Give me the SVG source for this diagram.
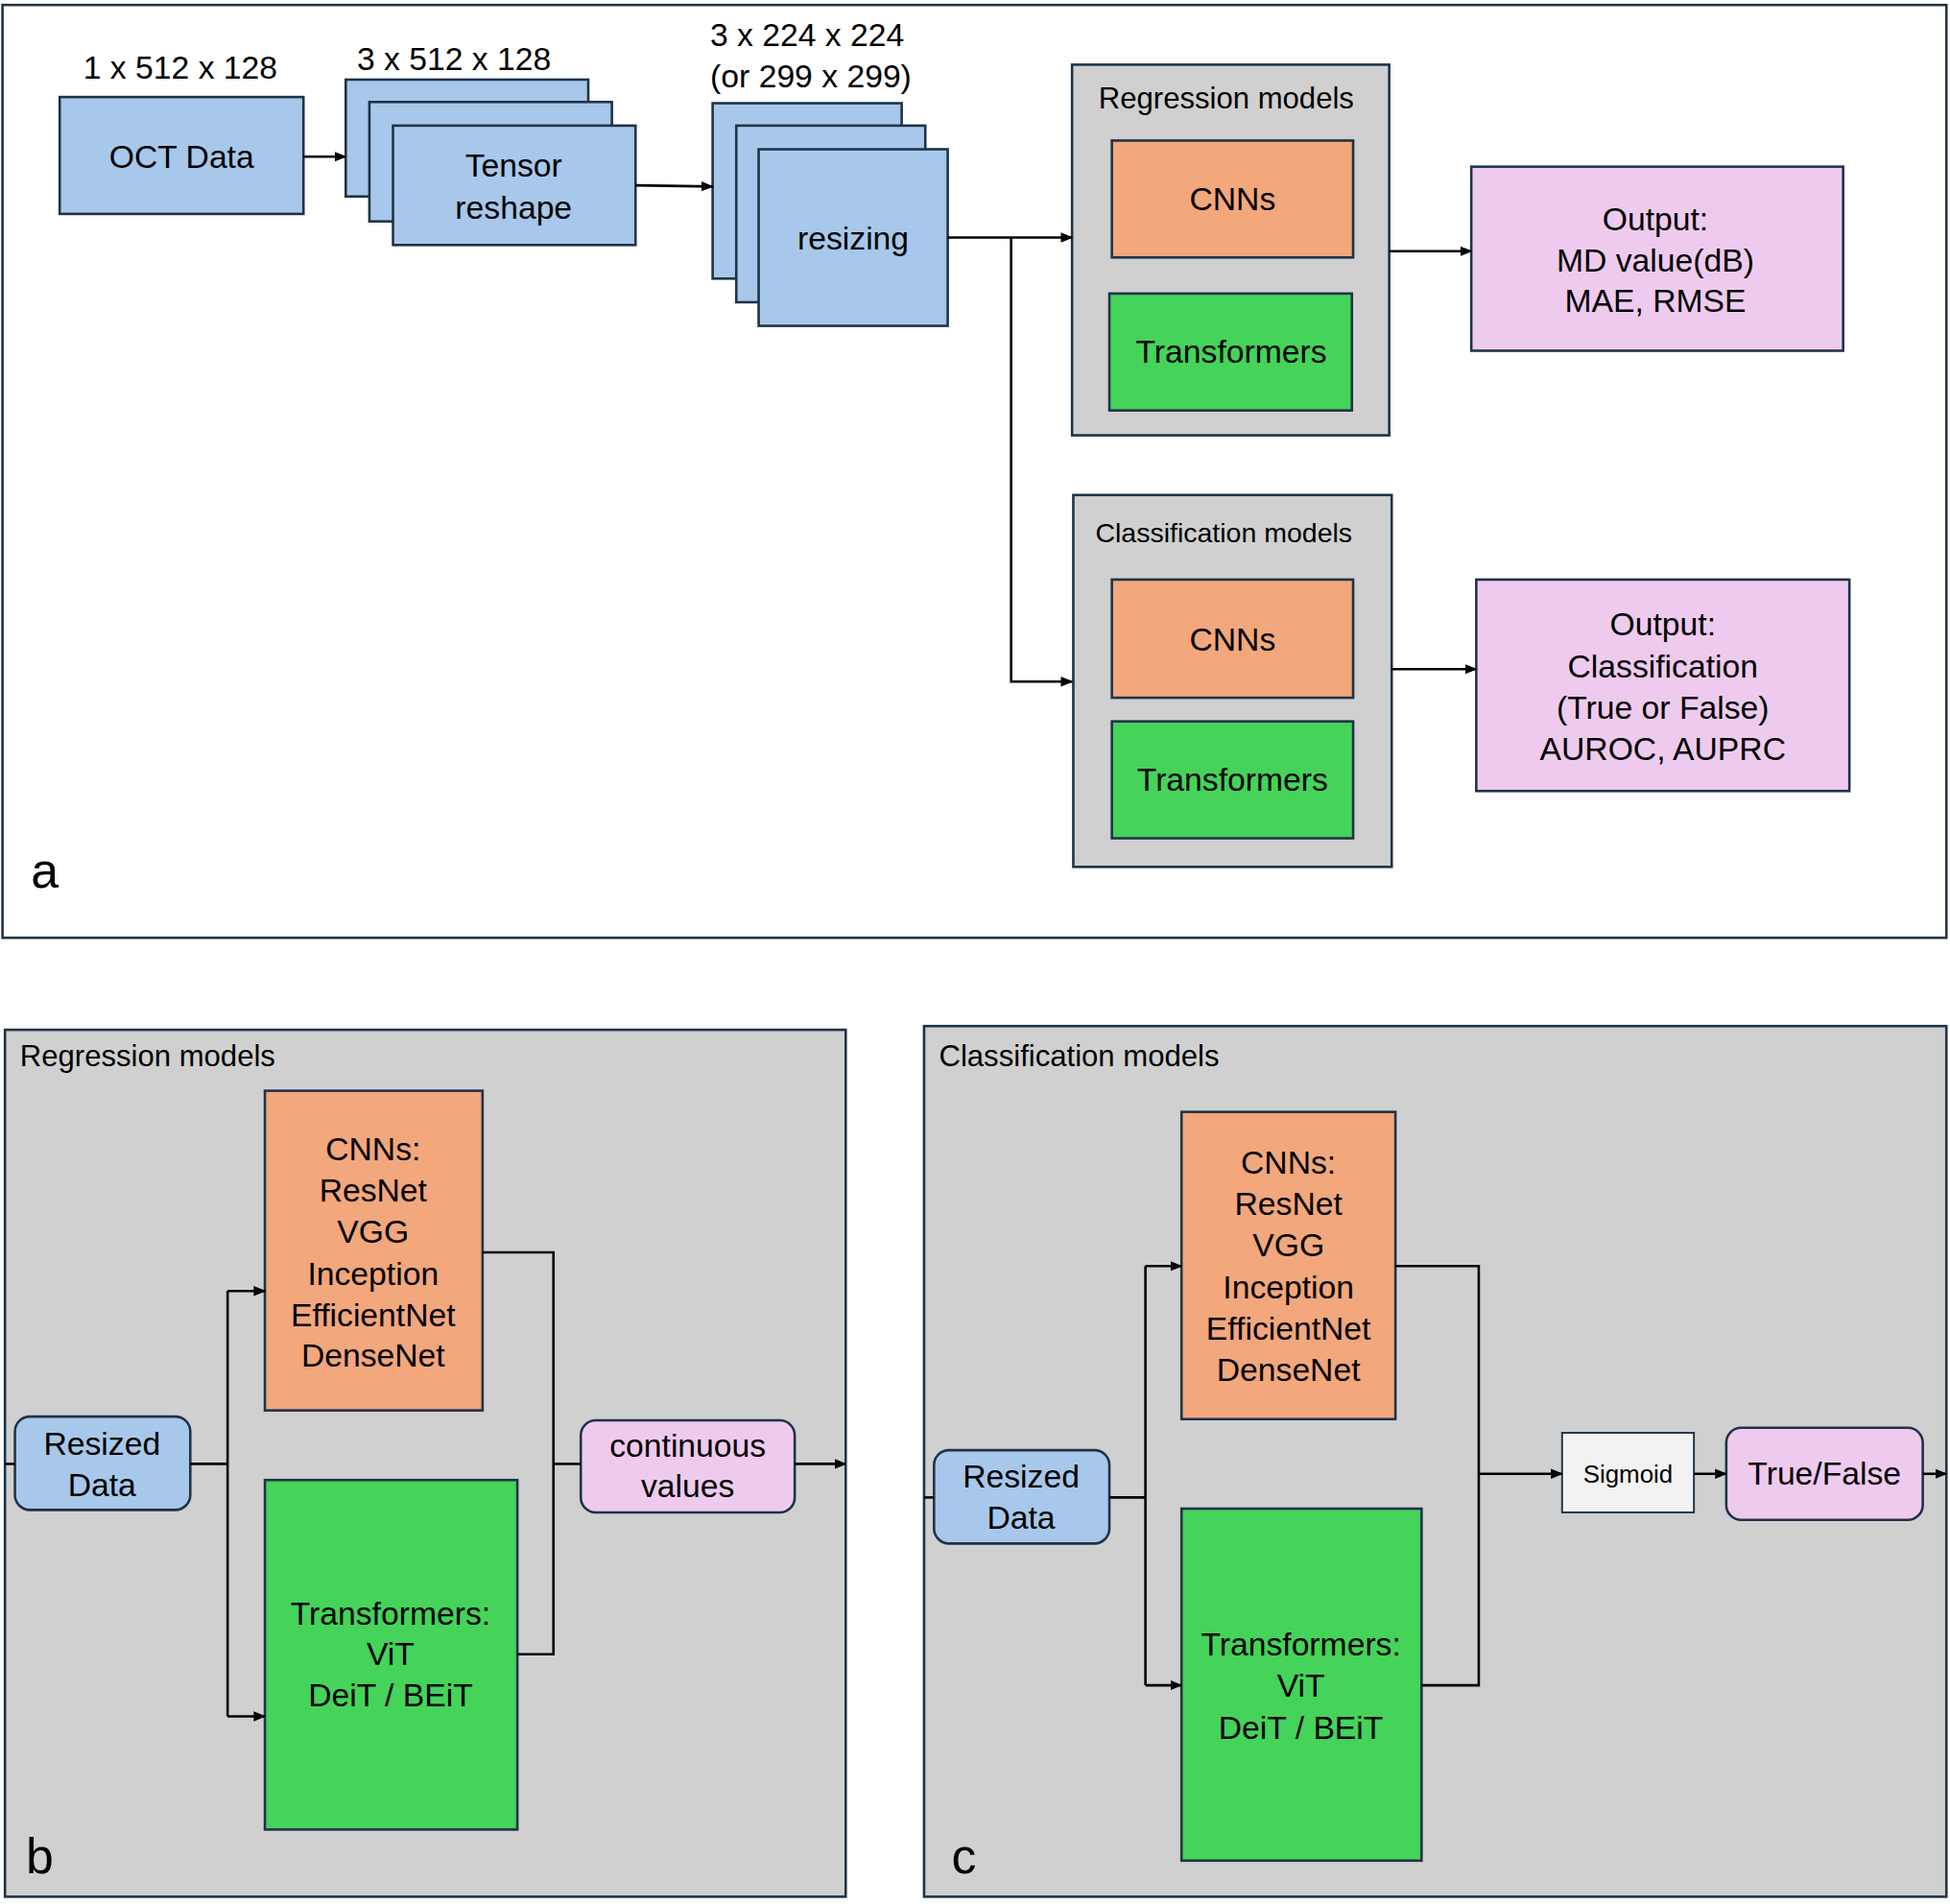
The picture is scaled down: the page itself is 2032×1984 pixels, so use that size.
<svg xmlns="http://www.w3.org/2000/svg" width="2032" height="1984" viewBox="0 0 2032 1984">
<defs>
<marker id="ah" viewBox="0 0 10 10" refX="9" refY="5" markerWidth="5" markerHeight="5" orient="auto"><path d="M0,1 L10,5 L0,9 z" fill="#000"/></marker>
<style>
text{font-family:"Liberation Sans",Arial,sans-serif;font-size:26px;fill:#000;text-anchor:middle}
.blue{fill:#a7c8ea;stroke:#1f3347;stroke-width:2}
.org{fill:#f2a77c;stroke:#1f3347;stroke-width:2}
.grn{fill:#45d35a;stroke:#1f3347;stroke-width:2}
.pink{fill:#eecbee;stroke:#1f3347;stroke-width:2}
.gray{fill:#d0d0d0;stroke:#1f3347;stroke-width:2}
.frame{fill:#fff;stroke:#1f3347;stroke-width:2}
.c{fill:none;stroke:#000;stroke-width:2}
.l{text-anchor:start}
</style>
</defs>
<rect width="2032" height="1984" fill="#fff"/>
<g transform="scale(1.296)">
<g id="panelA"><rect class="frame" x="2" y="4" width="1563" height="750"/><text x="36" y="714" style="font-size:40px">a</text></g>
<g id="oct"><rect class="blue" x="48" y="78" width="196" height="94"/><text x="146" y="135">OCT Data</text><text x="145" y="63">1 x 512 x 128</text></g>
<g id="tensor"><rect class="blue" x="278" y="64" width="195" height="94"/><rect class="blue" x="297" y="82" width="195" height="96"/><rect class="blue" x="316" y="101" width="195" height="96"/><text x="413" y="142">Tensor</text><text x="413" y="176">reshape</text><text x="365" y="56">3 x 512 x 128</text></g>
<g id="resize"><rect class="blue" x="573" y="83" width="152" height="141"/><rect class="blue" x="592" y="101" width="152" height="142"/><rect class="blue" x="610" y="120" width="152" height="142"/><text x="686" y="201">resizing</text><text x="649" y="37">3 x 224 x 224</text><text x="652" y="70">(or 299 x 299)</text></g>
<g id="regA"><rect class="gray" x="862" y="52" width="255" height="298"/><text x="986" y="87" style="font-size:24px">Regression models</text>
<rect class="org" x="894" y="113" width="194" height="94"/><text x="991" y="169">CNNs</text>
<rect class="grn" x="892" y="236" width="195" height="94"/><text x="990" y="292">Transformers</text></g>
<g id="outA1"><rect class="pink" x="1183" y="134" width="299" height="148"/><text x="1331" y="185">Output:</text><text x="1331" y="218">MD value(dB)</text><text x="1331" y="251">MAE, RMSE</text></g>
<g id="clsA"><rect class="gray" x="863" y="398" width="256" height="299"/><text x="984" y="436" style="font-size:22px">Classification models</text>
<rect class="org" x="894" y="466" width="194" height="95"/><text x="991" y="523">CNNs</text>
<rect class="grn" x="894" y="580" width="194" height="94"/><text x="991" y="636">Transformers</text></g>
<g id="outA2"><rect class="pink" x="1187" y="466" width="300" height="170"/><text x="1337" y="511">Output:</text><text x="1337" y="545">Classification</text><text x="1337" y="578">(True or False)</text><text x="1337" y="611">AUROC, AUPRC</text></g>

<g id="panelB"><rect class="gray" x="4" y="828" width="676" height="697"/><text class="l" x="16" y="857" style="font-size:24px">Regression models</text><text x="32" y="1506" style="font-size:40px">b</text></g>
<g id="rdB"><rect class="blue" x="12" y="1139" width="141" height="75" rx="12"/><text x="82" y="1170">Resized</text><text x="82" y="1203">Data</text></g>
<g id="cnnB"><rect class="org" x="213" y="877" width="175" height="257"/><text x="300" y="933">CNNs:</text><text x="300" y="966">ResNet</text><text x="300" y="999">VGG</text><text x="300" y="1033">Inception</text><text x="300" y="1066">EfficientNet</text><text x="300" y="1099">DenseNet</text></g>
<g id="trB"><rect class="grn" x="213" y="1190" width="203" height="281"/><text x="314" y="1306">Transformers:</text><text x="314" y="1339">ViT</text><text x="314" y="1372">DeiT / BEiT</text></g>
<g id="cvB"><rect class="pink" x="467" y="1142" width="172" height="74" rx="12"/><text x="553" y="1171">continuous</text><text x="553" y="1204">values</text></g>

<g id="panelC"><rect class="gray" x="743" y="825" width="822" height="700"/><text class="l" x="755" y="857" style="font-size:24px">Classification models</text><text x="775" y="1506" style="font-size:40px">c</text></g>
<g id="rdC"><rect class="blue" x="751" y="1166" width="141" height="75" rx="12"/><text x="821" y="1196">Resized</text><text x="821" y="1229">Data</text></g>
<g id="cnnC"><rect class="org" x="950" y="894" width="172" height="247"/><text x="1036" y="944">CNNs:</text><text x="1036" y="977">ResNet</text><text x="1036" y="1010">VGG</text><text x="1036" y="1044">Inception</text><text x="1036" y="1077">EfficientNet</text><text x="1036" y="1110">DenseNet</text></g>
<g id="trC"><rect class="grn" x="950" y="1213" width="193" height="283"/><text x="1046" y="1331">Transformers:</text><text x="1046" y="1364">ViT</text><text x="1046" y="1398">DeiT / BEiT</text></g>
<g id="sig"><rect x="1256" y="1152" width="106" height="64" fill="#f2f2f2" stroke="#1f3347" stroke-width="1.5"/><text x="1309" y="1192" style="font-size:20px">Sigmoid</text></g>
<g id="tf"><rect class="pink" x="1388" y="1148" width="158" height="74" rx="12"/><text x="1467" y="1194">True/False</text></g>

<g id="connectors">
<path class="c" d="M244,126 H278" marker-end="url(#ah)"/>
<path class="c" d="M511,149 L573,150" marker-end="url(#ah)"/>
<path class="c" d="M762,191 H862" marker-end="url(#ah)"/>
<path class="c" d="M813,191 V548 H862" marker-end="url(#ah)"/>
<path class="c" d="M1117,202 H1183" marker-end="url(#ah)"/>
<path class="c" d="M1119,538 H1187" marker-end="url(#ah)"/>
<path class="c" d="M4,1177 H12"/>
<path class="c" d="M153,1177 H183"/>
<path class="c" d="M183,1038 V1380"/>
<path class="c" d="M183,1038 H213" marker-end="url(#ah)"/>
<path class="c" d="M183,1380 H213" marker-end="url(#ah)"/>
<path class="c" d="M388,1007 H445 V1330 H416"/>
<path class="c" d="M445,1177 H467"/>
<path class="c" d="M639,1177 H680" marker-end="url(#ah)"/>
<path class="c" d="M743,1204 H751"/>
<path class="c" d="M892,1204 H921"/>
<path class="c" d="M921,1018 V1355"/>
<path class="c" d="M921,1018 H950" marker-end="url(#ah)"/>
<path class="c" d="M921,1355 H950" marker-end="url(#ah)"/>
<path class="c" d="M1122,1018 H1189 V1355 H1143"/>
<path class="c" d="M1189,1185 H1256" marker-end="url(#ah)"/>
<path class="c" d="M1362,1185 H1388" marker-end="url(#ah)"/>
<path class="c" d="M1546,1185 H1565" marker-end="url(#ah)"/>
</g>
</g>
</svg>
